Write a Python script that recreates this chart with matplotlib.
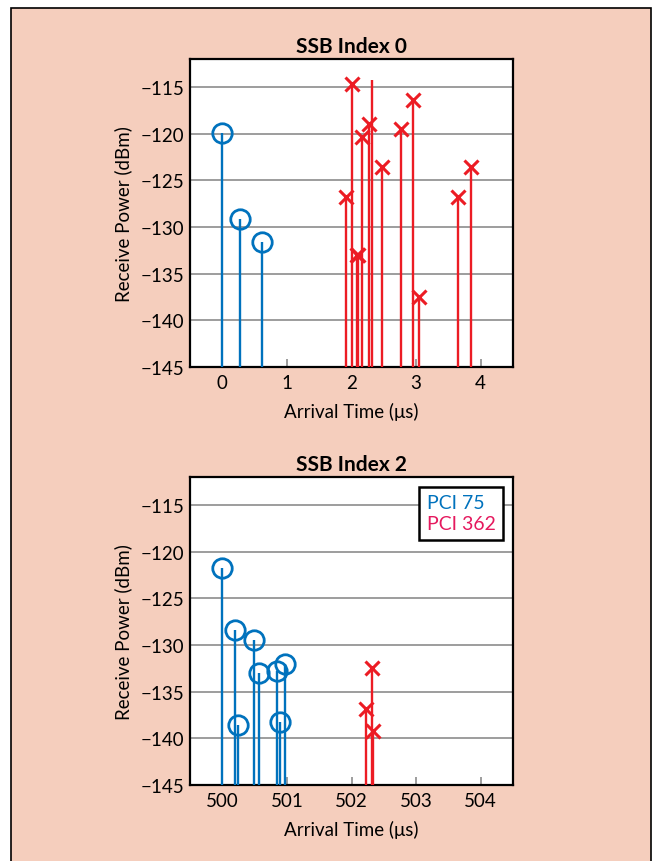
import matplotlib
matplotlib.use("Agg")
import matplotlib.pyplot as plt
from matplotlib.patches import Rectangle
from matplotlib.lines import Line2D

plt.rcParams['font.family'] = ['Lato', 'DejaVu Sans']

# ---- data ----
ssb0_pci75_t = [0.0, 0.27, 0.61]
ssb0_pci75_p = [-119.96, -129.1, -131.6]
ssb0_pci362_t = [1.92, 2.005, 2.08, 2.10, 2.155, 2.265, 2.47, 2.77, 2.955, 3.04, 3.655, 3.85]
ssb0_pci362_p = [-126.8, -114.7, -133.0, -133.0, -120.4, -119.0, -123.6, -119.5, -116.4, -137.5, -126.8, -123.6]
ssb0_extra_t = [2.32]
ssb0_extra_p = [-114.3]

ssb2_pci75_t = [500.0, 500.2, 500.24, 500.49, 500.57, 500.84, 500.89, 500.97]
ssb2_pci75_p = [-121.8, -128.4, -138.6, -129.5, -133.0, -132.8, -138.3, -132.0]
ssb2_pci362_t = [502.23, 502.31, 502.34]
ssb2_pci362_p = [-136.9, -132.5, -139.2]

yticks = [-145, -140, -135, -130, -125, -120, -115]
xticks0 = [0, 1, 2, 3, 4]
xticks2 = [500, 501, 502, 503, 504]
titles = ["SSB Index 0", "SSB Index 2"]
legend_labels = ["PCI 75", "PCI 362"]

BLUE = '#0072BD'
RED = '#EC1C24'
PINK = '#E5195E'
BG = '#F5CEBD'
BASE = -145
FS = 13.5

fig = plt.figure(figsize=(6.61, 8.62), dpi=100)
fig.patch.set_facecolor('white')
fig.patches.append(Rectangle((11/661, -0.05), (651-11)/661, 1 - 9/862 + 0.05,
                             transform=fig.transFigure, facecolor=BG,
                             edgecolor='black', linewidth=1.2, zorder=-10))

W, H = 661, 862
def axrect(l, t, r, b):
    return [l/W, 1 - b/H, (r-l)/W, (b-t)/H]

ax1 = fig.add_axes(axrect(190, 60, 513, 368))
ax2 = fig.add_axes(axrect(190, 478, 513, 786))

def stem(ax, t, p, color, marker, ms, mew, show_marker=True):
    ml, sl, bl = ax.stem(t, p, bottom=BASE, basefmt=' ')
    plt.setp(sl, color=color, linewidth=1.7)
    if show_marker:
        plt.setp(ml, marker=marker, markersize=ms, markeredgewidth=mew,
                 markerfacecolor='none', markeredgecolor=color, color=color)
    else:
        ml.set_visible(False)
    ml.set_zorder(4)
    sl.set_zorder(3)

def style(ax, xlim, xticks, title):
    ax.set_xlim(*xlim)
    ax.set_ylim(-145, -112)
    ax.set_xticks(xticks)
    ax.set_yticks(yticks)
    ax.set_yticklabels([f"\u2212{abs(v)}" for v in yticks])
    ax.yaxis.grid(True, color='#8c8c8c', linewidth=1.2)
    ax.set_axisbelow(True)
    ax.tick_params(axis='x', direction='in', length=6, color='#8c8c8c',
                   width=1.2, labelsize=FS, pad=5)
    ax.tick_params(axis='y', length=0, labelsize=FS, pad=4)
    for s in ax.spines.values():
        s.set_linewidth(1.6)
        s.set_color('black')
    ax.set_title(title, fontsize=15, fontweight='bold', pad=5)
    ax.set_ylabel("Receive Power (dBm)", fontsize=FS, labelpad=6)
    ax.set_xlabel("Arrival Time (\u03bcs)", fontsize=FS, labelpad=8)
    ax.set_facecolor('white')

stem(ax1, ssb0_pci75_t, ssb0_pci75_p, BLUE, 'o', 14, 2.0)
stem(ax1, ssb0_pci362_t, ssb0_pci362_p, RED, 'x', 9.5, 2.2)
stem(ax1, ssb0_extra_t, ssb0_extra_p, RED, 'x', 9.5, 2.2, show_marker=False)
style(ax1, (-0.5, 4.5), xticks0, titles[0])

stem(ax2, ssb2_pci75_t, ssb2_pci75_p, BLUE, 'o', 14, 2.0)
stem(ax2, ssb2_pci362_t, ssb2_pci362_p, RED, 'x', 9.5, 2.2)
style(ax2, (499.5, 504.5), xticks2, titles[1])

handles = [Line2D([], [], linestyle='none', marker=None) for _ in legend_labels]
leg = ax2.legend(handles, legend_labels, loc='upper right', handlelength=0,
                 handletextpad=0, fontsize=14, frameon=True, fancybox=False,
                 framealpha=1, borderpad=0.4, labelspacing=0.2,
                 borderaxespad=0.5)
leg.get_frame().set_edgecolor('black')
leg.get_frame().set_linewidth(1.8)
for txt, c in zip(leg.get_texts(), [BLUE, PINK]):
    txt.set_color(c)

fig.savefig("out.png", dpi=100, facecolor=fig.get_facecolor())
